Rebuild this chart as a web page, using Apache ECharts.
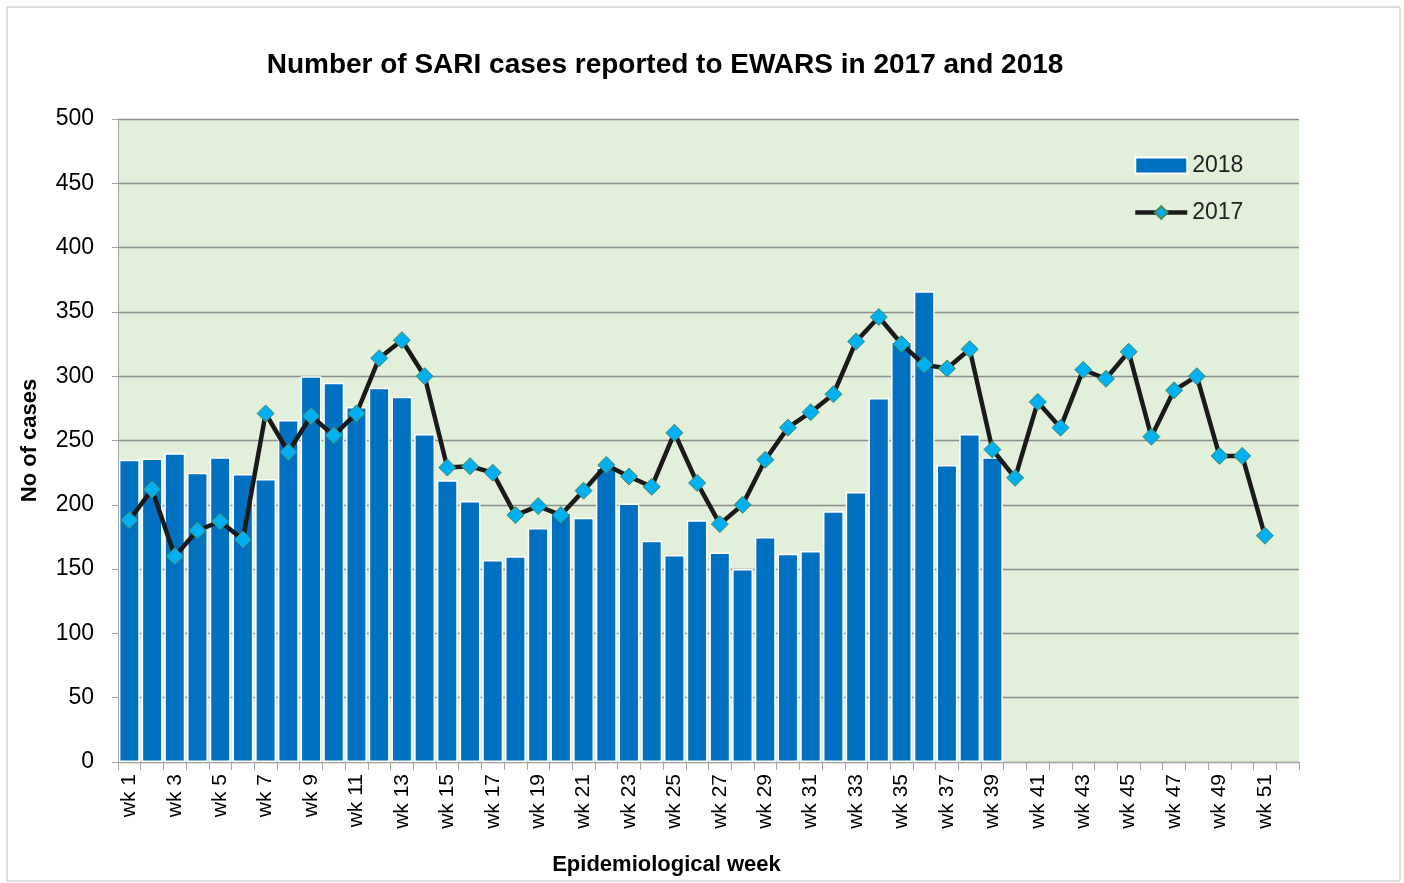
<!DOCTYPE html>
<html><head><meta charset="utf-8">
<script src="https://cdn.jsdelivr.net/npm/echarts@6/dist/echarts.min.js"></script>
<style>html,body{margin:0;padding:0;background:#fff}#c{width:1404px;height:883px}</style>
</head><body><div id="c"></div>
<script>
const weeks = Array.from({length:52}, (_, i) => 'wk ' + (i + 1));
const cases2018 = [235,236,240,225,237,224,220,266,300,295,276,291,284,255,219,203,157,160,182,194,190,229,201,172,161,188,163,150,175,162,164,195,210,283,327,366,231,255,237];
const cases2017 = [188,212,160,180,187,173,271,241,269,254,271,314,328,300,229,230,225,192,199,192,211,231,222,214,256,217,185,200,235,260,272,286,327,346,325,309,306,321,243,221,280,260,305,298,319,253,289,300,238,238,176,null];
const yTicks = {min:0, max:500, interval:50};

const font = 'Liberation Sans, Arial, sans-serif';
const chart = echarts.init(document.getElementById('c'));
chart.setOption({
  animation:false,
  backgroundColor:'#fff',
  textStyle:{fontFamily:font},
  graphic:[{type:'rect', shape:{x:7,y:7,width:1393,height:874}, style:{fill:'none', stroke:'#bfbfbf', lineWidth:1}, z:-1}],
  title:{text:'Number of SARI cases reported to EWARS in 2017 and 2018', left:660, textAlign:'center', top:46,
    textStyle:{fontSize:28, fontWeight:'bold', color:'#000', fontFamily:font}},
  legend:{orient:'vertical', left:1128, top:149, itemGap:24, itemWidth:52, itemHeight:16,
    textStyle:{fontSize:23, color:'#222', fontFamily:font},
    data:[{name:'2018', icon:'rect'}, {name:'2017', lineStyle:{width:4.5, color:'#1a1a1a'}}]},
  grid:{left:118, right:105, top:119, bottom:121, show:true, backgroundColor:'#E2EFDA', borderWidth:0},
  xAxis:{type:'category', data:weeks, name:'Epidemiological week', nameLocation:'middle', nameGap:92,
    nameTextStyle:{fontSize:22, fontWeight:'bold', color:'#000', fontFamily:font, padding:[0,84,0,0]},
    axisLine:{lineStyle:{color:'#a6a6a6', width:1}},
    axisTick:{show:true, length:8, interval:0, alignWithLabel:false, lineStyle:{color:'#a6a6a6'}},
    axisLabel:{interval:1, rotate:90, fontSize:21, color:'#000', margin:12, fontFamily:font}},
  yAxis:{type:'value', min:yTicks.min, max:yTicks.max, interval:yTicks.interval, name:'No of cases', nameLocation:'middle', nameGap:77,
    nameTextStyle:{fontSize:22, fontWeight:'bold', color:'#000', fontFamily:font},
    axisLine:{show:true, lineStyle:{color:'#a6a6a6'}},
    axisTick:{show:true, length:6, lineStyle:{color:'#a6a6a6'}},
    axisLabel:{fontSize:23, color:'#000', margin:24, fontFamily:font},
    splitLine:{lineStyle:{color:'#8c8c8c', width:1.3}}},
  series:[
    {name:'2018', type:'bar', data:cases2018, barCategoryGap:'8%',
      itemStyle:{color:'#0070C0', borderColor:'#fff', borderWidth:1.5}},
    {name:'2017', type:'line', data:cases2017, symbol:'diamond', symbolSize:17, showAllSymbol:true,
      lineStyle:{color:'#1a1a1a', width:4.5},
      itemStyle:{color:'#00B0F0', borderColor:'#4a8a5a', borderWidth:1}, z:5}
  ]
});
</script></body></html>
